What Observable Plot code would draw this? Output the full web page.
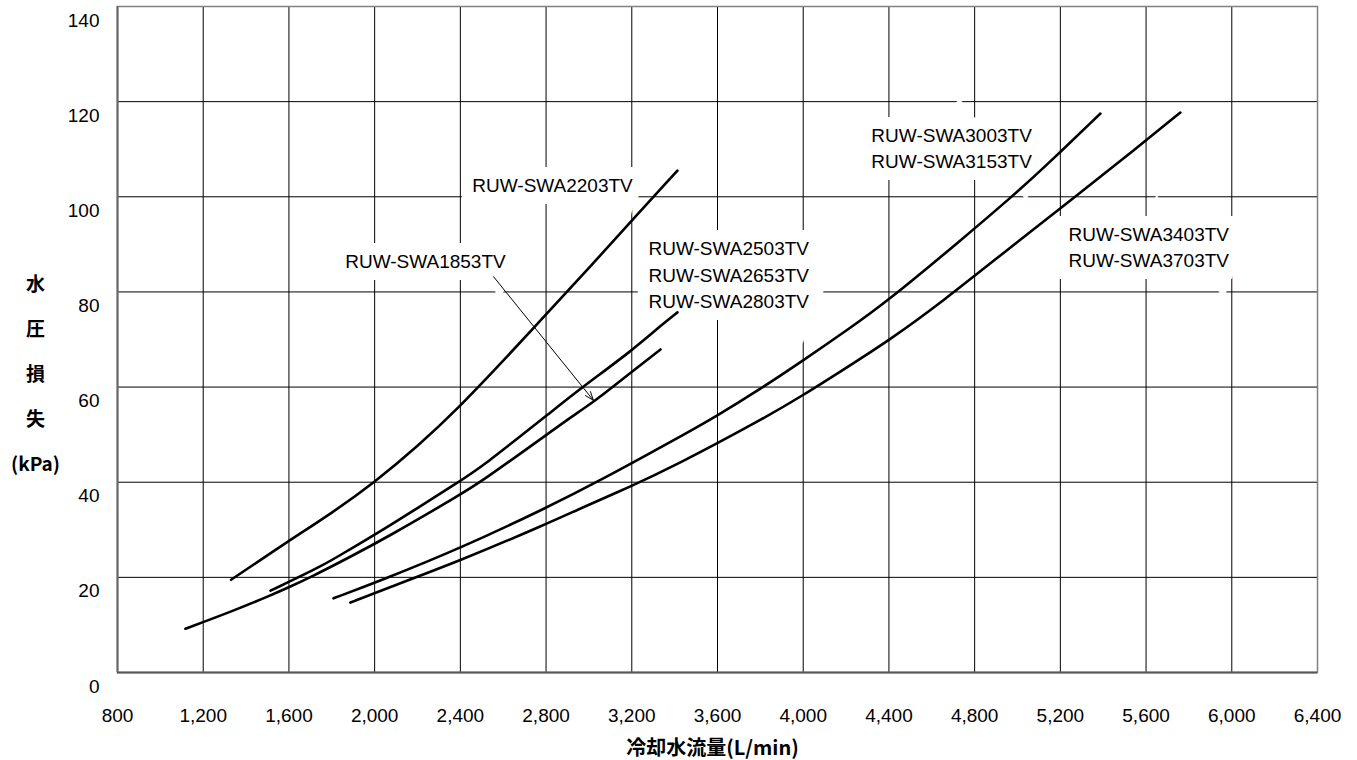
<!DOCTYPE html>
<html>
<head>
<meta charset="utf-8">
<script src="https://cdn.jsdelivr.net/npm/d3@7"></script>
<script src="https://cdn.jsdelivr.net/npm/@observablehq/plot@0.6"></script>
<style>
  html, body { margin: 0; padding: 0; background: #fff; }
  #chart { width: 1357px; height: 760px; }
</style>
</head>
<body>
<div id="chart"></div>
<script>
// ---- Data (flow L/min, pressure loss kPa) ----
const xTicks = [800, 1200, 1600, 2000, 2400, 2800, 3200, 3600, 4000, 4400, 4800, 5200, 5600, 6000, 6400];
const yTicks = [0, 20, 40, 60, 80, 100, 120, 140];

const curve2203 = [[1330,19.5],[1600,27.7],[1800,33.5],[2000,40],[2200,47.5],[2400,56],[2600,65.5],[2800,75.3],[3000,85],[3200,95],[3413,105.5]];
const curve2503 = [[1514,17.2],[1761,22.5],[1873,25.6],[2058,30.5],[2400,40.3],[2494,43.0],[2844,55.5],[2961,59.7],[3208,67.9],[3348,73.4],[3413,75.7]];
const curve1853 = [[1117,9.2],[1343,13.0],[1514,16.2],[1599,17.9],[1700,20.0],[1873,24],[2058,28.4],[2400,37.4],[2494,40],[2800,49.9],[2961,55.1],[3021,56.8],[3208,63.5],[3334,67.9]];
const curve3003 = [[1808,15.6],[2027,19.3],[2400,26.1],[2806,34.7],[3054,40.4],[3395,48.8],[3600,54],[3800,59.6],[4000,65.6],[4206,72.0],[4392,78.0],[4734,90.8],[4981,100.3],[5121,106],[5387,117.5]];
const curve3403 = [[1887,14.7],[2027,17.2],[2400,23.5],[2806,31.3],[2961,34.5],[3194,39.1],[3395,43.3],[3800,53],[3997,58.2],[4206,64.2],[4393,69.6],[4640,77.6],[4998,90.5],[5279,100.3],[5543,109.8],[5760,117.7]];

const seriesNames = ["RUW-SWA2203TV", "RUW-SWA2503TV", "RUW-SWA1853TV", "RUW-SWA3003TV", "RUW-SWA3403TV"];
const seriesCurves = [curve2203, curve2503, curve1853, curve3003, curve3403];

// label annotations (data coordinates)
const labelTexts = [
  "RUW-SWA2203TV",
  "RUW-SWA1853TV",
  "RUW-SWA2503TV\nRUW-SWA2653TV\nRUW-SWA2803TV",
  "RUW-SWA3003TV\nRUW-SWA3153TV",
  "RUW-SWA3403TV\nRUW-SWA3703TV"
];
const labelX = [2830, 2237, 3278, 4318, 5238];
const labelY = [102.8, 86.8, 83.9, 110.6, 89.8];
const labelAnchor = ["middle", "middle", "start", "start", "start"];

const arrowFrom = [2555, 83.2];
const arrowTo = [3021, 57.2];

// ---- Build table ----
const rows = [];
seriesCurves.forEach((c, i) => c.forEach(([x, y]) => rows.push({series: seriesNames[i], x, y})));
const labels = labelTexts.map((t, i) => ({text: t, x: labelX[i], y: labelY[i], anchor: labelAnchor[i]}));
const midLabels = labels.filter(d => d.anchor === "middle");
const startLabels = labels.filter(d => d.anchor === "start");

const latin = "'Liberation Sans', Arial, sans-serif";
const cjk = "'Noto Sans CJK JP', 'Noto Sans', sans-serif";
const labelOpts = {x: "x", y: "y", text: "text", fontSize: 19, lineHeight: 1.39};
const haloOpts = {fill: "#fff", stroke: "#fff", strokeWidth: 24, strokeLinejoin: "miter"};

const chart = Plot.plot({
  width: 1357,
  height: 760,
  marginLeft: 117,
  marginRight: 40,
  marginTop: 6,
  marginBottom: 88,
  style: {fontFamily: latin, fontSize: "19px", background: "#fff", color: "#000"},
  x: {domain: [800, 6400], ticks: xTicks},
  y: {domain: [0, 140], ticks: yTicks},
  marks: [
    Plot.gridX(xTicks, {stroke: "#000", strokeOpacity: 1, strokeWidth: 1}),
    Plot.gridY(yTicks, {stroke: "#000", strokeOpacity: 1, strokeWidth: 1}),
    Plot.frame({stroke: "#808080", strokeWidth: 1.5}),
    Plot.ruleY([0], {stroke: "#555", strokeWidth: 2}),
    Plot.ruleX([800], {stroke: "#666", strokeWidth: 2}),
    Plot.axisX(xTicks, {tickSize: 0, tickPadding: 36, tickFormat: d3.format(","), fontSize: 19, label: null}),
    Plot.axisY(yTicks, {tickSize: 0, tickPadding: 18, dy: 14, fontSize: 19, label: null}),
    // white boxes behind labels (hide gridlines)
    Plot.text(midLabels, {...labelOpts, ...haloOpts, textAnchor: "middle"}),
    Plot.text(startLabels, {...labelOpts, ...haloOpts, textAnchor: "start"}),
    Plot.line(rows, {x: "x", y: "y", z: "series", stroke: "#000", strokeWidth: 2.6, curve: "basis"}),
    Plot.text(midLabels, {...labelOpts, fill: "#000", textAnchor: "middle"}),
    Plot.text(startLabels, {...labelOpts, fill: "#000", textAnchor: "start"}),
    Plot.arrow([{x1: arrowFrom[0], y1: arrowFrom[1], x2: arrowTo[0], y2: arrowTo[1]}], {x1: "x1", y1: "y1", x2: "x2", y2: "y2", stroke: "#000", strokeWidth: 1, headLength: 14, headAngle: 40}),
    // axis titles
    Plot.text(["冷却水流量(L/min)"], {frameAnchor: "bottom", dy: 82, dx: -5, text: d => d, fontFamily: cjk, fontWeight: "bold", fontSize: 20, fill: "#000"}),
    Plot.text(["水\n圧\n損\n失\n(kPa)"], {frameAnchor: "left", dx: -82, dy: 27, text: d => d, textAnchor: "middle", fontFamily: cjk, fontWeight: "bold", fontSize: 19, lineHeight: 2.38, fill: "#000"})
  ]
});
document.getElementById("chart").appendChild(chart);
</script>
</body>
</html>
